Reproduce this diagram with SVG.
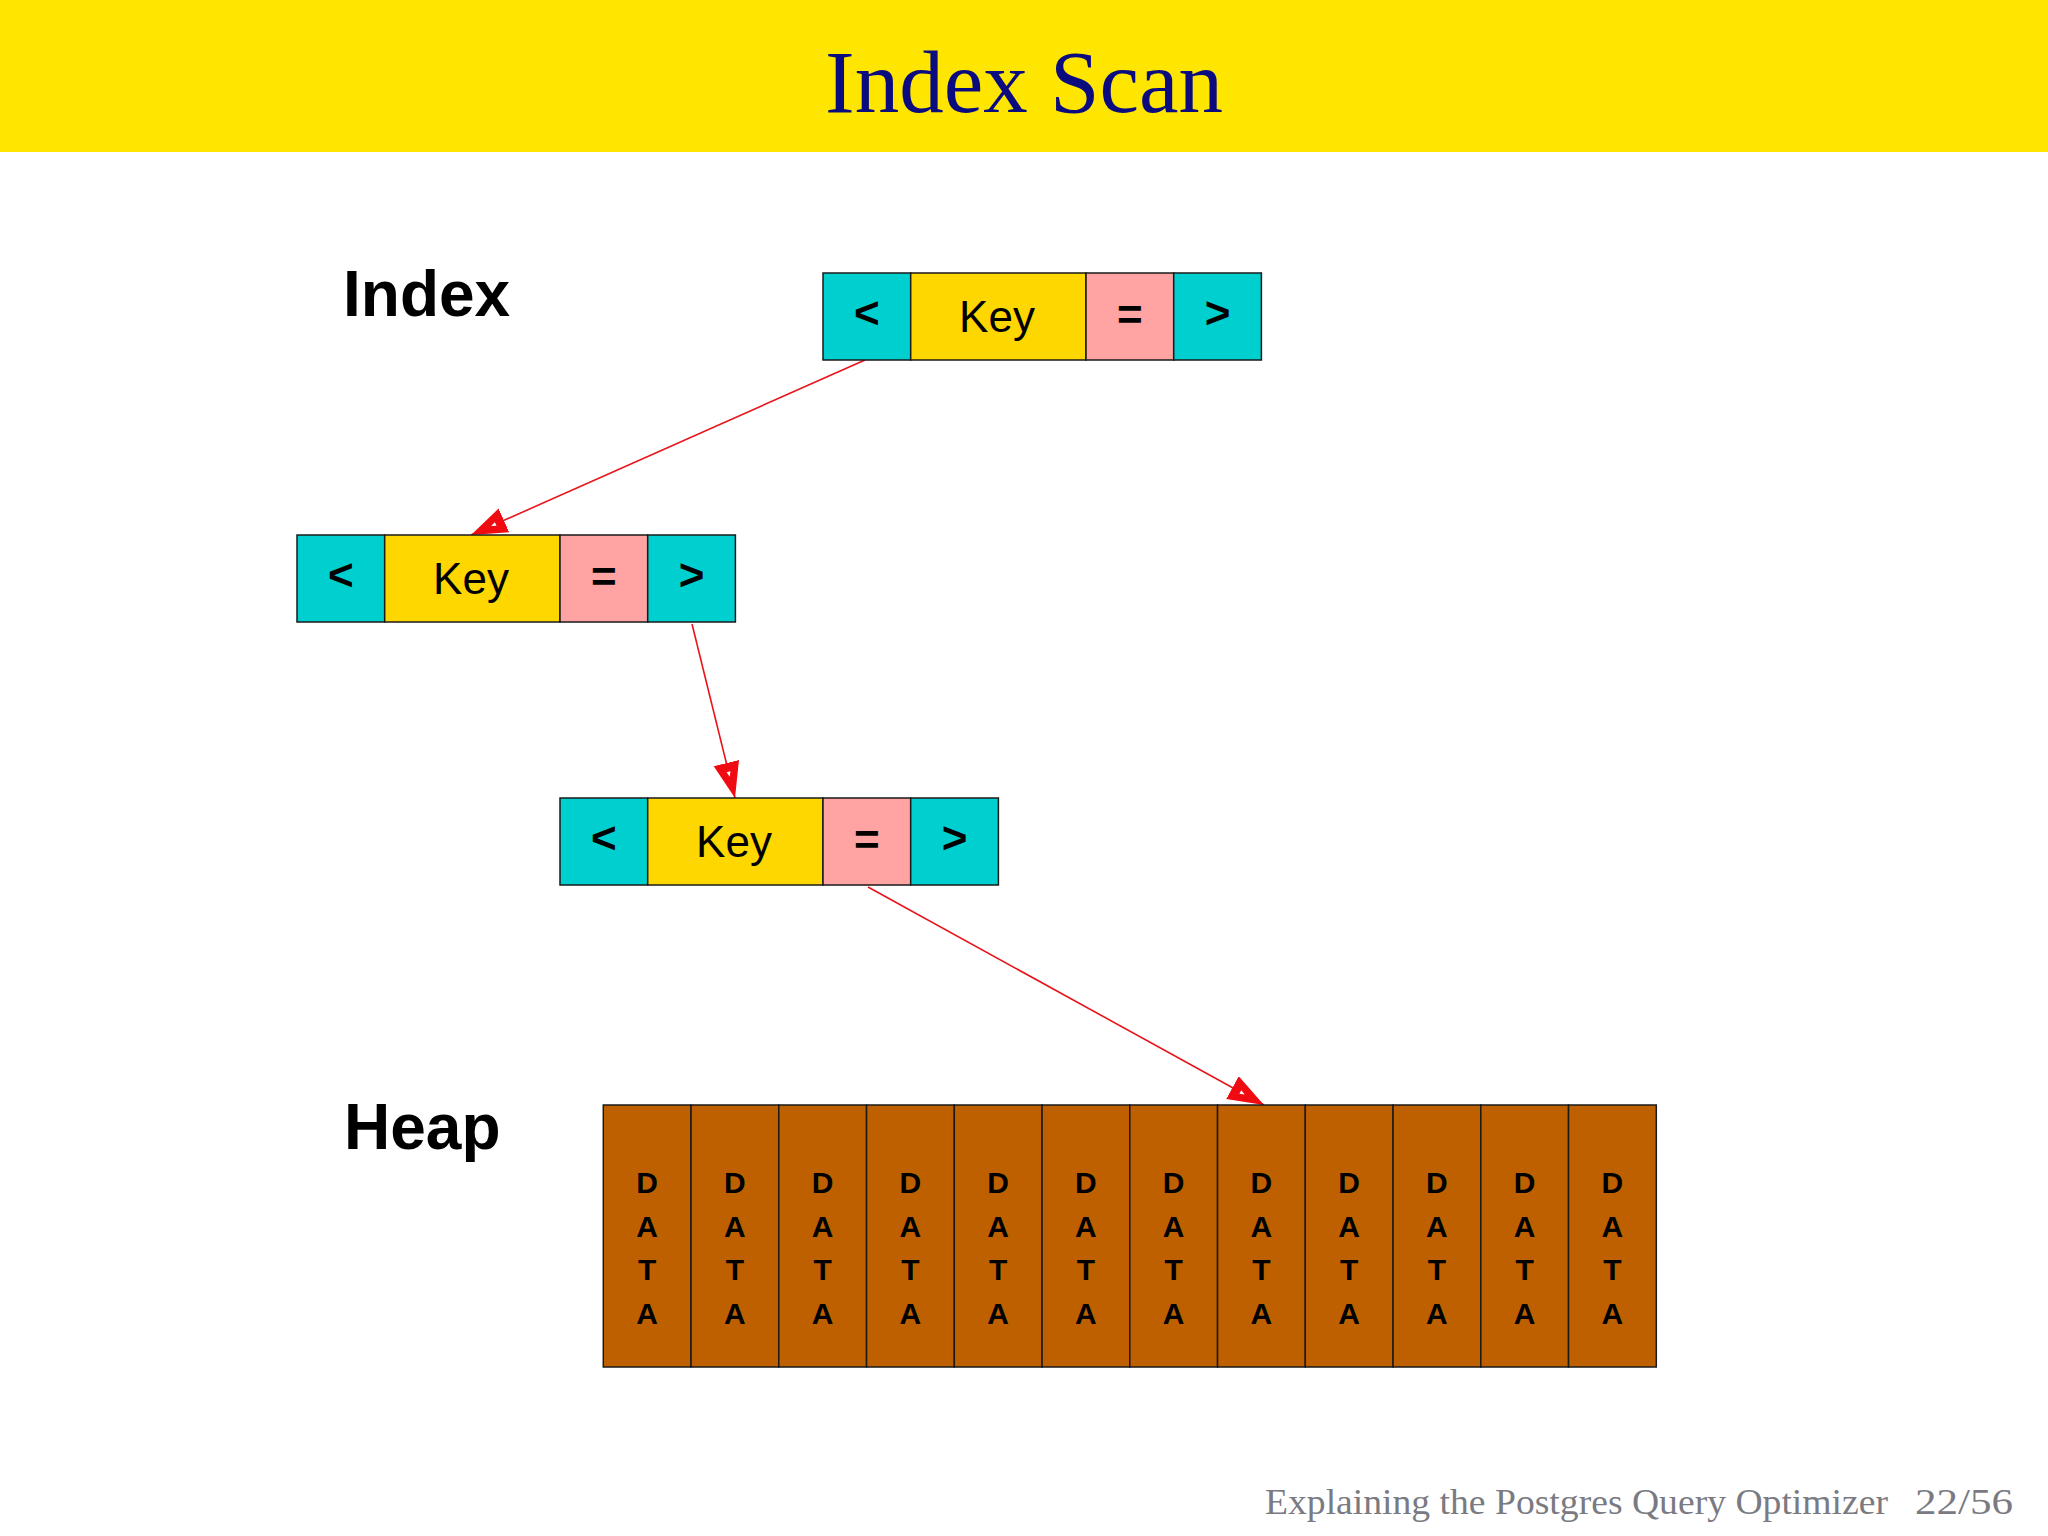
<svg xmlns="http://www.w3.org/2000/svg" width="2048" height="1536" viewBox="0 0 2048 1536">
<style>
.cell{stroke:#1a1a1a;stroke-width:1.5}
.lt{fill:#00CFD0}
.key{fill:#FFD700}
.eq{fill:#FFA3A3}
.heap{fill:#BF6000;stroke:#1a1a1a;stroke-width:1.5}
.sym{font-family:"Liberation Sans",Arial,sans-serif;font-weight:bold;font-size:44px;text-anchor:middle;fill:#000}
.kt{font-family:"Liberation Sans",Arial,sans-serif;font-size:44px;text-anchor:middle;fill:#000}
.dt{font-family:"Liberation Sans",Arial,sans-serif;font-weight:bold;font-size:30px;text-anchor:middle;fill:#000}
.lbl{font-family:"Liberation Sans",Arial,sans-serif;font-weight:bold;font-size:64px;fill:#000}
.conn{stroke:#E8141A;stroke-width:1.6;fill:none}
</style>
<defs>
<marker id="ah" markerUnits="userSpaceOnUse" markerWidth="40" markerHeight="30" refX="36" refY="13" orient="auto" viewBox="0 0 40 30">
<path d="M0,0 L36,13 L0,26 Z" fill="#F00A12"/>
<path d="M9,11 L14,13 L9,15 Z" fill="#fff"/>
</marker>
<g id="idxnode">
<rect class="cell lt" x="0" y="0" width="87.7" height="87"/>
<rect class="cell key" x="87.7" y="0" width="175.3" height="87"/>
<rect class="cell eq" x="263" y="0" width="87.7" height="87"/>
<rect class="cell lt" x="350.7" y="0" width="87.7" height="87"/>
<text class="sym" x="43.8" y="55">&lt;</text>
<text class="kt" x="174" y="59">Key</text>
<text class="sym" x="306.8" y="57">=</text>
<text class="sym" x="394.5" y="55">&gt;</text>
</g>
</defs>
<rect x="0" y="0" width="2048" height="1536" fill="#fff"/>
<g id="header">
<rect x="0" y="0" width="2048" height="152" fill="#FFE600"/>
<text x="1024" y="112" font-family="'Liberation Serif','Times New Roman',serif" font-size="89" text-anchor="middle" fill="#0B0B80">Index Scan</text>
</g>
<g id="labels">
<text class="lbl" x="343" y="316">Index</text>
<text class="lbl" x="344" y="1149">Heap</text>
</g>
<g id="connectors">
<line class="conn" x1="865" y1="360" x2="471" y2="535" marker-end="url(#ah)"/>
<line class="conn" x1="692" y1="624" x2="735" y2="798" marker-end="url(#ah)"/>
<line class="conn" x1="868" y1="887" x2="1264" y2="1105" marker-end="url(#ah)"/>
</g>
<g id="node-root" transform="translate(823,273)"><use href="#idxnode"/></g>
<g id="node-mid" transform="translate(297,535)"><use href="#idxnode"/></g>
<g id="node-leaf" transform="translate(560,798)"><use href="#idxnode"/></g>
<g id="heap" transform="translate(603.3,1105)">
<rect class="heap" x="0" y="0" width="87.75" height="262"/>
<rect class="heap" x="87.75" y="0" width="87.75" height="262"/>
<rect class="heap" x="175.5" y="0" width="87.75" height="262"/>
<rect class="heap" x="263.25" y="0" width="87.75" height="262"/>
<rect class="heap" x="351" y="0" width="87.75" height="262"/>
<rect class="heap" x="438.75" y="0" width="87.75" height="262"/>
<rect class="heap" x="526.5" y="0" width="87.75" height="262"/>
<rect class="heap" x="614.25" y="0" width="87.75" height="262"/>
<rect class="heap" x="702" y="0" width="87.75" height="262"/>
<rect class="heap" x="789.75" y="0" width="87.75" height="262"/>
<rect class="heap" x="877.5" y="0" width="87.75" height="262"/>
<rect class="heap" x="965.25" y="0" width="87.75" height="262"/>
<g class="dt">
<text x="43.9" y="88">D</text><text x="43.9" y="132">A</text><text x="43.9" y="175">T</text><text x="43.9" y="219">A</text>
<text x="131.6" y="88">D</text><text x="131.6" y="132">A</text><text x="131.6" y="175">T</text><text x="131.6" y="219">A</text>
<text x="219.4" y="88">D</text><text x="219.4" y="132">A</text><text x="219.4" y="175">T</text><text x="219.4" y="219">A</text>
<text x="307.1" y="88">D</text><text x="307.1" y="132">A</text><text x="307.1" y="175">T</text><text x="307.1" y="219">A</text>
<text x="394.9" y="88">D</text><text x="394.9" y="132">A</text><text x="394.9" y="175">T</text><text x="394.9" y="219">A</text>
<text x="482.6" y="88">D</text><text x="482.6" y="132">A</text><text x="482.6" y="175">T</text><text x="482.6" y="219">A</text>
<text x="570.4" y="88">D</text><text x="570.4" y="132">A</text><text x="570.4" y="175">T</text><text x="570.4" y="219">A</text>
<text x="658.1" y="88">D</text><text x="658.1" y="132">A</text><text x="658.1" y="175">T</text><text x="658.1" y="219">A</text>
<text x="745.9" y="88">D</text><text x="745.9" y="132">A</text><text x="745.9" y="175">T</text><text x="745.9" y="219">A</text>
<text x="833.6" y="88">D</text><text x="833.6" y="132">A</text><text x="833.6" y="175">T</text><text x="833.6" y="219">A</text>
<text x="921.4" y="88">D</text><text x="921.4" y="132">A</text><text x="921.4" y="175">T</text><text x="921.4" y="219">A</text>
<text x="1009.1" y="88">D</text><text x="1009.1" y="132">A</text><text x="1009.1" y="175">T</text><text x="1009.1" y="219">A</text>
</g>
</g>
<g id="footer" font-family="'Liberation Serif','Times New Roman',serif" font-size="36" fill="#7A7A82">
<text x="1265" y="1514" textLength="623" lengthAdjust="spacingAndGlyphs">Explaining the Postgres Query Optimizer</text>
<text x="1915" y="1514" textLength="98" lengthAdjust="spacingAndGlyphs">22/56</text>
</g>
</svg>
